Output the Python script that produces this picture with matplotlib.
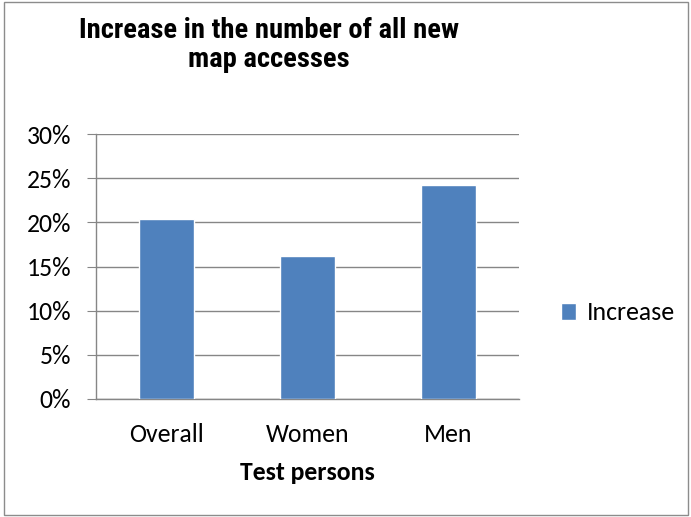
import matplotlib.pyplot as plt
from matplotlib.patches import Rectangle
from matplotlib.ticker import FuncFormatter

categories = ['Overall', 'Women', 'Men']
increase = [20.4, 16.2, 24.2]
yticks = [0, 5, 10, 15, 20, 25, 30]

bar_color = '#4F81BD'
grid_color = '#868686'
body_font = ['Carlito', 'Lato', 'DejaVu Sans']
title_font = ['Liberation Sans Narrow', 'Arial Narrow', 'Roboto Condensed', 'Liberation Sans']

fig = plt.figure(figsize=(6.91, 5.17), dpi=100)
ax = fig.add_axes([96 / 691, 1 - 399 / 517, 423 / 691, 265 / 517])

# chart border like the Excel chart area
fig.patches.append(Rectangle((4 / 691, 2 / 517), 684 / 691, 513 / 517,
                             transform=fig.transFigure, fill=False,
                             edgecolor='#8c8c8c', linewidth=1))

ax.bar(range(len(categories)), increase, width=0.39, color=bar_color,
       edgecolor='white', linewidth=1, label='Increase', zorder=3)

ax.set_xlim(-0.5, 2.5)
ax.set_ylim(0, 30)
ax.set_yticks(yticks)
ax.yaxis.set_major_formatter(FuncFormatter(lambda v, p: f'{v:.0f}%'))
ax.set_xticks(range(len(categories)))
ax.set_xticklabels(categories)
ax.grid(axis='y', color=grid_color, linewidth=1, zorder=0)

for s in ['top', 'right']:
    ax.spines[s].set_visible(False)
for s in ['left', 'bottom']:
    ax.spines[s].set_color(grid_color)
    ax.spines[s].set_linewidth(1)

ax.tick_params(axis='y', length=6.5, color=grid_color, labelsize=18.5, pad=11.5)
ax.tick_params(axis='x', length=0, labelsize=18.5, pad=17)
for lab in ax.get_xticklabels() + ax.get_yticklabels():
    lab.set_family(body_font)

ax.set_xlabel('Test persons', fontsize=18.5, fontweight='bold',
              family=body_font, labelpad=11)

fig.text(269 / 691, 1 - 45 / 517, 'Increase in the number of all new\nmap accesses',
         ha='center', va='center', fontsize=20.5, fontweight='bold',
         family=title_font, linespacing=1.08)

fig.legend(loc='center left', bbox_to_anchor=(561 / 691, 1 - 313 / 517),
           frameon=False, borderpad=0, borderaxespad=0,
           prop={'family': body_font, 'size': 18.5},
           handlelength=0.6, handleheight=0.6, handletextpad=0.4)

fig.savefig('out.png', dpi=100)
